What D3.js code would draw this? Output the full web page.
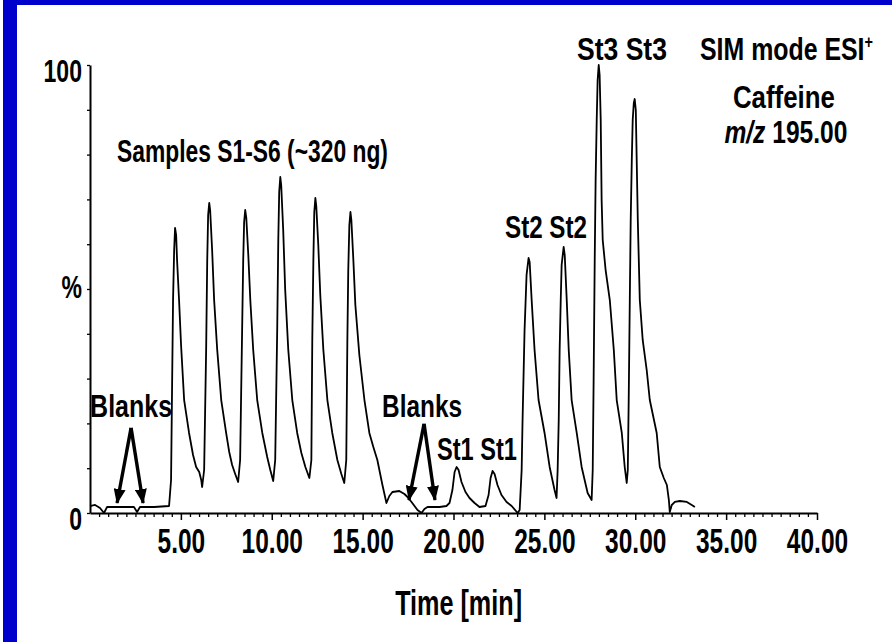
<!DOCTYPE html>
<html>
<head>
<meta charset="utf-8">
<script src="https://cdn.jsdelivr.net/npm/d3@7"></script>
<style>
	body { margin: 0; background: #fff; }
	svg { display: block; }
	text { font-family: "Liberation Sans", Arial, Helvetica, sans-serif; font-weight: bold; fill: #000; }
</style>
</head>
<body>
<div class="canvas"></div>
<script>
// SIM trace, caffeine m/z 195.00: retention time (min) and relative abundance (%)
const traceTime = [
	0.00, 0.28, 0.55, 0.77, 0.94, 1.60, 2.42, 2.59, 2.75, 3.53, 4.35,
	4.46, 4.52, 4.57, 4.63, 4.68, 4.74, 4.79, 4.90, 5.01, 5.18, 5.45, 5.67, 5.84, 6.01, 6.12, 6.17,
	6.28, 6.39, 6.45, 6.50, 6.56, 6.61, 6.72, 6.83, 7.00, 7.22, 7.49, 7.66, 7.82, 7.99, 8.15,
	8.26, 8.37, 8.43, 8.48, 8.54, 8.60, 8.71, 8.82, 8.98, 9.20, 9.48, 9.75, 9.92, 10.08,
	10.19, 10.30, 10.36, 10.41, 10.47, 10.52, 10.63, 10.74, 10.91, 11.13, 11.40, 11.63, 11.85, 12.07,
	12.18, 12.23, 12.29, 12.34, 12.40, 12.45, 12.56, 12.67, 12.84, 13.06, 13.33, 13.61, 13.83, 13.99,
	14.10, 14.16, 14.21, 14.27, 14.33, 14.38, 14.49, 14.60, 14.82, 15.10, 15.37, 15.59, 15.81, 16.09,
	16.31, 16.47, 16.64, 17.02, 17.30, 17.47, 17.69, 18.02, 18.24, 18.40, 18.57, 19.23, 19.61,
	19.78, 19.94, 20.06, 20.17, 20.28, 20.44, 20.66, 20.88, 21.16, 21.43,
	21.76, 21.93, 22.04, 22.15, 22.26, 22.42, 22.64, 22.92, 23.20, 23.53,
	23.64, 23.75, 23.80, 23.91, 24.02, 24.13, 24.19, 24.30, 24.46, 24.68, 25.01, 25.29, 25.56, 25.67,
	25.73, 25.79, 25.84, 25.90, 25.95, 26.06, 26.12, 26.23, 26.34, 26.50, 26.78, 27.05, 27.38, 27.60,
	27.66, 27.71, 27.77, 27.82, 27.88, 27.93, 27.99, 28.04, 28.10, 28.15, 28.21, 28.37, 28.60, 28.82,
	28.98, 29.26, 29.42, 29.53,
	29.59, 29.64, 29.70, 29.75, 29.81, 29.86, 29.92, 29.97, 30.03, 30.08, 30.14, 30.25, 30.41, 30.63,
	30.80, 31.18, 31.35, 31.57, 31.74, 31.85, 31.90, 32.01, 32.18, 32.45, 32.84, 33.11, 33.28
];
const traceIntensity = [
	1.56, 1.79, 1.12, 0.00, 1.34, 1.34, 1.34, 0.22, 1.34, 1.34, 1.56,
	7.37, 29.69, 47.54, 58.71, 63.62, 62.05, 56.47, 47.54, 37.50, 25.22, 17.86, 12.95, 10.27, 9.15, 7.37, 5.80,
	9.60, 36.38, 56.47, 66.52, 69.20, 67.63, 58.71, 47.54, 36.38, 25.22, 17.86, 13.62, 10.71, 8.71, 6.92,
	11.83, 40.85, 56.47, 64.96, 67.63, 65.85, 57.59, 47.54, 36.38, 25.22, 17.86, 12.50, 9.60, 7.14,
	11.83, 40.85, 60.94, 71.65, 75.00, 73.21, 63.17, 49.78, 36.38, 25.22, 17.86, 13.39, 10.27, 7.81,
	11.83, 38.62, 56.47, 67.19, 70.31, 68.53, 59.82, 48.66, 36.38, 25.22, 17.86, 11.83, 8.71, 6.70,
	11.83, 38.62, 54.24, 64.29, 67.19, 65.40, 56.47, 46.43, 35.27, 25.22, 17.86, 14.73, 11.83, 6.25,
	2.23, 3.79, 4.69, 4.91, 4.24, 3.57, 2.46, 0.67, 0.00, 0.89, 1.34, 1.34, 1.56,
	2.23, 5.13, 9.15, 10.27, 9.60, 6.92, 4.69, 3.35, 2.23, 1.34,
	1.56, 4.02, 7.81, 9.38, 8.71, 6.25, 4.02, 2.46, 1.56, 0.00,
	0.67, 9.60, 20.76, 40.85, 53.13, 56.92, 56.03, 47.54, 36.38, 25.22, 17.86, 10.27, 5.13, 3.35,
	9.60, 20.76, 36.38, 47.54, 55.36, 59.38, 57.59, 47.54, 36.38, 25.22, 17.86, 10.27, 4.46, 2.90,
	9.60, 29.69, 56.47, 74.33, 87.72, 96.65, 100.00, 97.77, 87.72, 69.87, 60.94, 54.24, 47.54, 36.38,
	25.22, 17.86, 10.27, 6.70,
	9.60, 25.22, 47.54, 65.40, 78.79, 87.72, 91.52, 92.41, 89.96, 78.79, 65.40, 47.54, 38.62, 31.92,
	25.22, 17.86, 10.27, 7.81, 6.25, 2.90, 0.22, 1.79, 2.46, 2.68, 2.46, 1.79, 1.34
];

const xTickValues = [5, 10, 15, 20, 25, 30, 35, 40];
const yTickValues = [0, 50, 100];
const yTickLabels = ["0", "%", "100"];

const dims = { width: 892, height: 642 };
const plot = { left: 90, right: 817, top: 65, bottom: 513 };

const svg = d3
	.select(".canvas")
	.append("svg")
	.attr("width", dims.width)
	.attr("height", dims.height);

svg.append("rect").attr("width", dims.width).attr("height", dims.height).attr("fill", "#fff");

// blue frame on the left and top edge
svg.append("rect").attr("x", 3).attr("y", 0).attr("width", 14).attr("height", dims.height).attr("fill", "#0000cc");
svg.append("rect").attr("x", 3).attr("y", 0).attr("width", dims.width - 3).attr("height", 5).attr("fill", "#0000cc");

const x = d3.scaleLinear().domain([0, 40]).range([plot.left, plot.right]);
const y = d3.scaleLinear().domain([0, 100]).range([plot.bottom, plot.top]);

// x axis: minor ticks every 0.5 min, labelled ones every 5 min
const minorTicks = d3.range(1, 80).map((i) => i / 2).filter((t) => t % 5 !== 0);
const xMinor = svg
	.append("g")
	.attr("transform", `translate(0,${plot.bottom})`)
	.call(d3.axisBottom(x).tickValues(minorTicks).tickSize(4).tickFormat(""));
xMinor.select(".domain").remove();
xMinor.selectAll(".tick line").attr("stroke-width", 1.3);

const xAxis = svg
	.append("g")
	.attr("transform", `translate(0,${plot.bottom})`)
	.call(
		d3
			.axisBottom(x)
			.tickValues(xTickValues)
			.tickSize(7)
			.tickSizeOuter(0)
			.tickFormat(d3.format(".2f"))
	);
xAxis.select(".domain").attr("stroke-width", 2);
xAxis.selectAll(".tick line").attr("stroke-width", 1.5);
xAxis
	.selectAll("text")
	.attr("y", null)
	.attr("dy", null)
	.attr("font-size", 35)
	.attr("transform", "translate(0,40) scale(0.7,1)");

// y axis: ticks every 10 %, labels at 0, 50 and 100
const yMinor = svg
	.append("g")
	.attr("transform", `translate(${plot.left},0)`)
	.call(d3.axisLeft(y).tickValues(d3.range(0, 101, 10)).tickSize(3).tickSizeOuter(0).tickFormat(""));
yMinor.select(".domain").attr("stroke-width", 2);
yMinor.selectAll(".tick line").attr("stroke-width", 1.3);

const yLabels = svg
	.append("g")
	.attr("transform", `translate(${plot.left},0)`)
	.call(
		d3
			.axisLeft(y)
			.tickValues(yTickValues)
			.tickSize(0)
			.tickFormat((d, i) => yTickLabels[i])
	);
yLabels.select(".domain").remove();
yLabels
	.selectAll("text")
	.attr("x", null)
	.attr("dy", null)
	.attr("font-size", 32)
	.attr("transform", (d) => `translate(-8,${d === 50 ? 8 : 16}) scale(0.72,1)`);

// chromatogram
const trace = traceTime.map((t, i) => [t, traceIntensity[i]]);
const line = d3
	.line()
	.x((d) => x(d[0]))
	.y((d) => y(d[1]));
svg
	.append("path")
	.datum(trace)
	.attr("d", line)
	.attr("fill", "none")
	.attr("stroke", "#000")
	.attr("stroke-width", 1.8)
	.attr("stroke-linejoin", "round");

// text squeezed to a given width, placed at (time, %) with its baseline there
function note(str, t, p, width, size = 31, anchor = "middle") {
	const el = svg.append("text").attr("font-size", size).attr("text-anchor", anchor);
	if (typeof str === "function") str(el);
	else el.text(str);
	const w = el.node().getBBox().width;
	el.attr("transform", `translate(${x(t)},${y(p)}) scale(${width / w},1)`);
	return el;
}

note("Samples S1-S6 (~320 ng)", 8.94, 78.35, 271);
note("Blanks", 2.26, 21.43, 82);
note("Blanks", 18.27, 21.43, 80);
note("St1 St1", 21.29, 11.83, 80);
note("St2 St2", 25.09, 61.38, 82);
note("St3 St3", 29.27, 101.12, 90);
note((el) => {
	el.append("tspan").text("SIM mode ESI");
	el.append("tspan").attr("font-size", 18).attr("dy", -12).text("+");
}, 38.32, 101.12, 173);
note("Caffeine", 38.18, 90.4, 102);
note((el) => {
	el.append("tspan").attr("font-style", "italic").text("m/z");
	el.append("tspan").text(" 195.00");
}, 38.29, 82.59, 123);

// axis title
svg
	.append("text")
	.attr("font-size", 36)
	.attr("text-anchor", "middle")
	.attr("transform", `translate(${x(20.28)},${plot.bottom + 102}) scale(0.7,1)`)
	.text("Time [min]");

// arrows marking the blank injections
svg
	.append("defs")
	.append("marker")
	.attr("id", "head")
	.attr("markerUnits", "userSpaceOnUse")
	.attr("markerWidth", 15)
	.attr("markerHeight", 12)
	.attr("refX", 14)
	.attr("refY", 6)
	.attr("orient", "auto")
	.append("path")
	.attr("d", "M0,0 L15,6 L0,12 Z")
	.attr("fill", "#000");

const arrows = [
	{ from: [2.26, 19.0], to: [[1.49, 2.23], [2.92, 2.23]] },
	{ from: [18.38, 19.9], to: [[17.55, 2.9], [18.98, 2.9]] },
];
arrows.forEach((a) => {
	a.to.forEach((tip) => {
		svg
			.append("line")
			.attr("x1", x(a.from[0]))
			.attr("y1", y(a.from[1]))
			.attr("x2", x(tip[0]))
			.attr("y2", y(tip[1]))
			.attr("stroke", "#000")
			.attr("stroke-width", 3.4)
			.attr("marker-end", "url(#head)");
	});
});
</script>
</body>
</html>
